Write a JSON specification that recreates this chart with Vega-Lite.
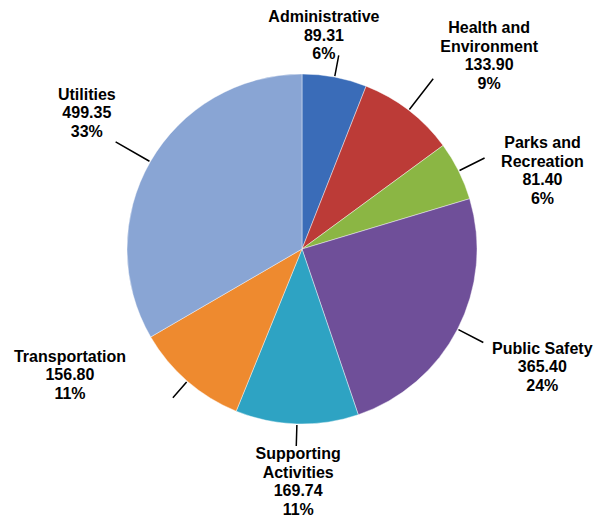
{
  "$schema": "https://vega.github.io/schema/vega-lite/v6.json",
  "width": 600,
  "height": 498,
  "autosize": "none",
  "padding": {"left": 2, "right": 0, "top": 0, "bottom": 19},
  "background": "white",
  "view": {"stroke": null},
  "config": {
    "text": {"font": "Liberation Sans", "fontWeight": "bold", "fontSize": 16, "lineHeight": 18.5,
             "color": "#000000", "align": "center", "baseline": "middle", "lineBreak": "\n"}
  },
  "data": {
    "values": [
      {"name": "Administrative", "amount": 89.31, "pct": 6},
      {"name": "Health and\nEnvironment", "amount": 133.90, "pct": 9},
      {"name": "Parks and\nRecreation", "amount": 81.40, "pct": 6},
      {"name": "Public Safety", "amount": 365.40, "pct": 24},
      {"name": "Supporting\nActivities", "amount": 169.74, "pct": 11},
      {"name": "Transportation", "amount": 156.80, "pct": 11},
      {"name": "Utilities", "amount": 499.35, "pct": 33}
    ]
  },
  "transform": [
    {"window": [{"op": "row_number", "as": "i"}]},
    {"calculate": "datum.name + '\\n' + format(datum.amount, '.2f') + '\\n' + datum.pct + '%'", "as": "label"}
  ],
  "encoding": {
    "theta": {"field": "amount", "type": "quantitative", "stack": true},
    "order": {"field": "i", "type": "quantitative"},
    "detail": {"field": "name", "type": "nominal"}
  },
  "layer": [
    {
      "mark": {"type": "arc", "outerRadius": 175, "stroke": "#ffffff", "strokeWidth": 0.6, "strokeOpacity": 0.7},
      "encoding": {
        "color": {
          "field": "name", "type": "nominal", "legend": null,
          "scale": {
            "domain": ["Administrative", "Health and\nEnvironment", "Parks and\nRecreation", "Public Safety",
                       "Supporting\nActivities", "Transportation", "Utilities"],
            "range": ["#3a6cb8", "#bc3b37", "#8bb644", "#6f4f99", "#2ea3c3", "#ee8a2f", "#89a5d4"]
          }
        }
      }
    },
    {
      "mark": {"type": "arc", "filled": false, "stroke": "#000000", "strokeWidth": 1.5,
               "innerRadius": 176, "outerRadius": 197, "padAngle": 3},
      "encoding": {"strokeOpacity": {"condition": {"test": "datum.i == 1 || datum.i == 5 || datum.i == 6", "value": 1}, "value": 0}}
    },
    {
      "mark": {"type": "arc", "filled": false, "stroke": "#000000", "strokeWidth": 1.5,
               "innerRadius": 176, "outerRadius": 204, "padAngle": 3},
      "encoding": {"strokeOpacity": {"condition": {"test": "datum.i == 3 || datum.i == 4", "value": 1}, "value": 0}}
    },
    {
      "mark": {"type": "arc", "filled": false, "stroke": "#000000", "strokeWidth": 1.5,
               "innerRadius": 176, "outerRadius": 215, "padAngle": 3},
      "encoding": {"strokeOpacity": {"condition": {"test": "datum.i == 2 || datum.i == 7", "value": 1}, "value": 0}}
    },
    {
      "mark": {"type": "text", "radius": 214, "dx": -18, "dy": -21.5},
      "encoding": {"text": {"condition": {"test": "datum.i == 1", "field": "label"}, "value": ""}}
    },
    {
      "mark": {"type": "text", "radius": 269, "dx": 23, "dy": -7.75},
      "encoding": {"text": {"condition": {"test": "datum.i == 2", "field": "label"}, "value": ""}}
    },
    {
      "mark": {"type": "text", "radius": 253, "dx": 14, "dy": 7.25},
      "encoding": {"text": {"condition": {"test": "datum.i == 3", "field": "label"}, "value": ""}}
    },
    {
      "mark": {"type": "text", "radius": 267, "dx": 3, "dy": -22.5},
      "encoding": {"text": {"condition": {"test": "datum.i == 4", "field": "label"}, "value": ""}}
    },
    {
      "mark": {"type": "text", "radius": 234, "dx": 3, "dy": -28.5},
      "encoding": {"text": {"condition": {"test": "datum.i == 5", "field": "label"}, "value": ""}}
    },
    {
      "mark": {"type": "text", "radius": 264, "dx": -59, "dy": -91.5},
      "encoding": {"text": {"condition": {"test": "datum.i == 6", "field": "label"}, "value": ""}}
    },
    {
      "mark": {"type": "text", "radius": 254, "dx": 5, "dy": -27.5},
      "encoding": {"text": {"condition": {"test": "datum.i == 7", "field": "label"}, "value": ""}}
    }
  ]
}
